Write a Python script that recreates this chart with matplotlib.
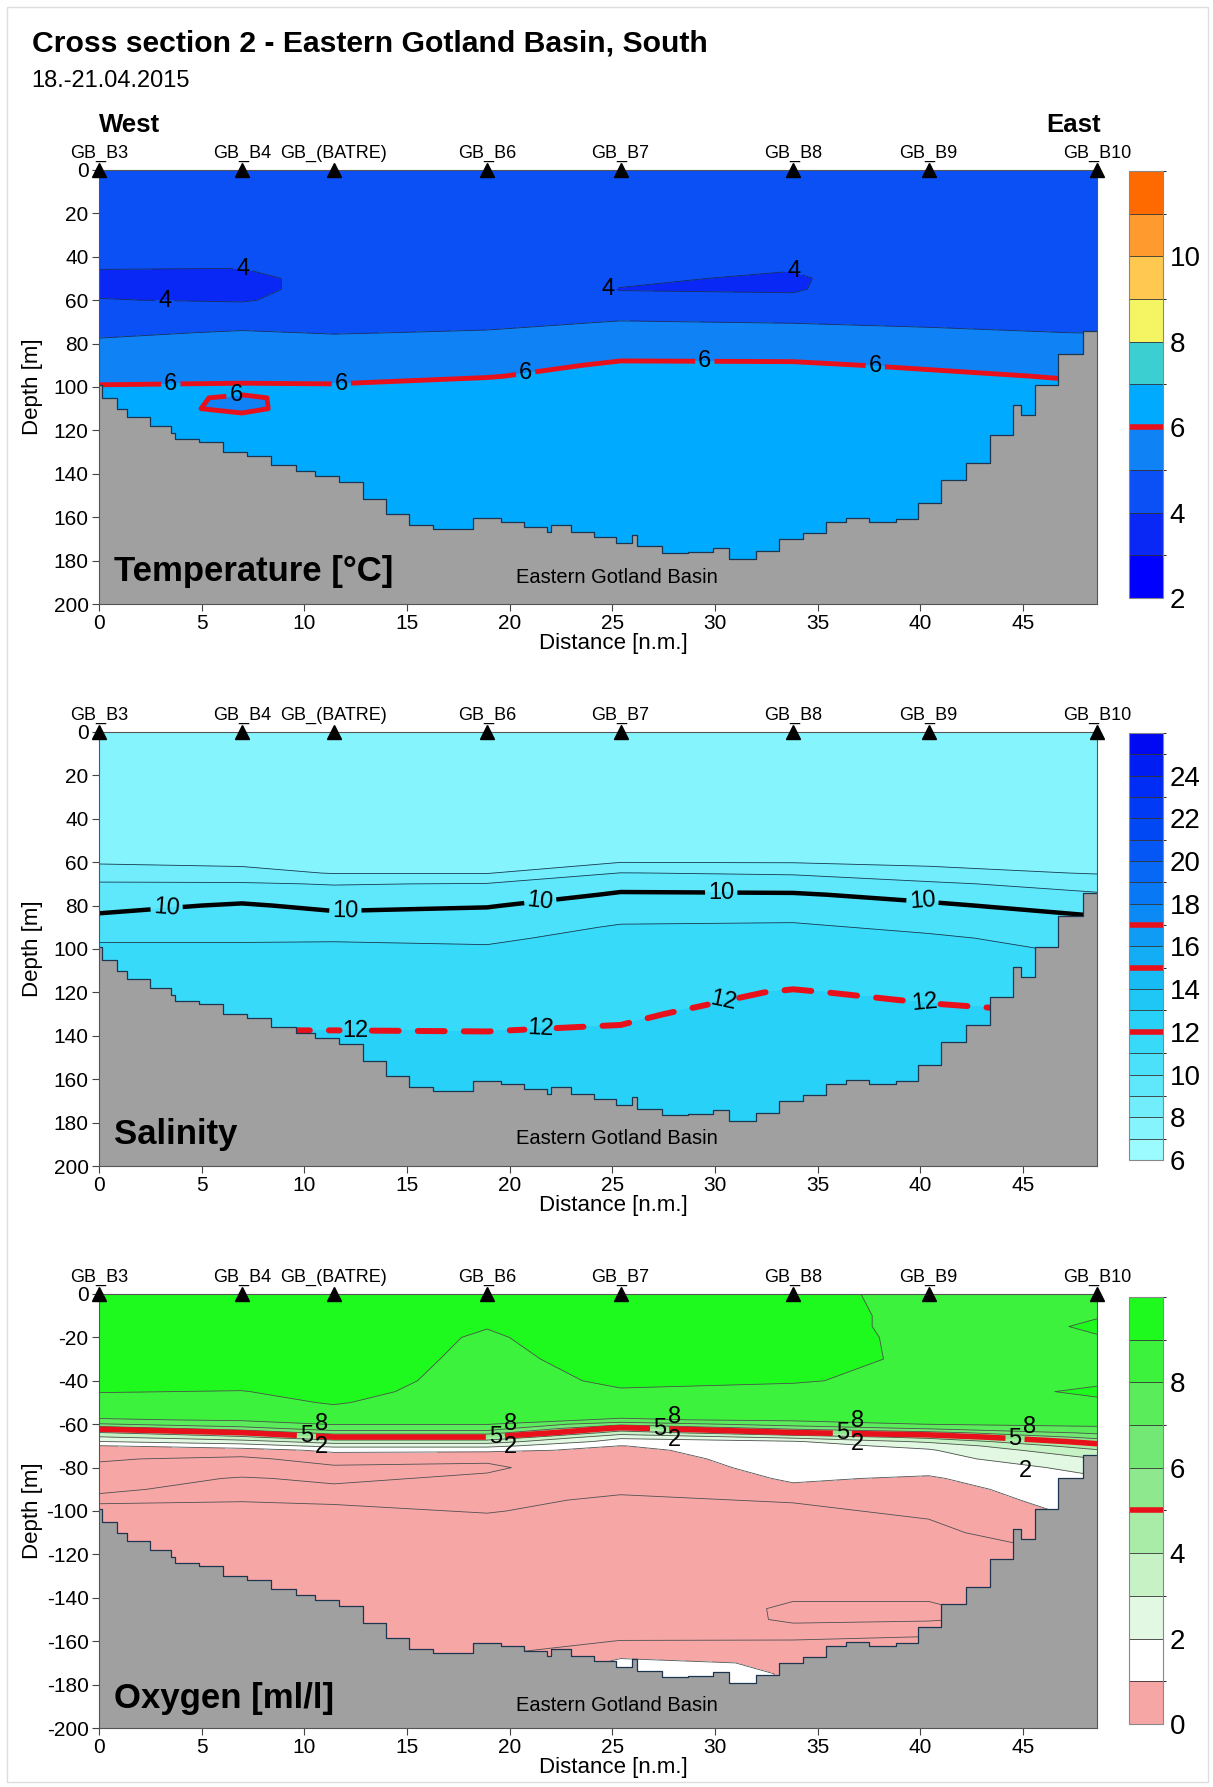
import numpy as np
import matplotlib
matplotlib.use("Agg")
import matplotlib.pyplot as plt
from matplotlib.colors import ListedColormap, BoundaryNorm, LinearSegmentedColormap
from matplotlib.cm import ScalarMappable
from matplotlib.patches import Rectangle
from matplotlib.ticker import FuncFormatter

plt.rcParams['font.family'] = ['Liberation Sans', 'DejaVu Sans']
plt.rcParams['contour.negative_linestyle'] = 'solid'

# stations along the section
stations = ['GB_B3', 'GB_B4', 'GB_(BATRE)', 'GB_B6', 'GB_B7', 'GB_B8', 'GB_B9', 'GB_B10']
station_dist = [0.0, 6.96, 11.44, 18.9, 25.4, 33.8, 40.4, 48.6]

# sea floor (step profile, n.m. / m)
bottom_dist = [0, 0.15, 0.9, 1.35, 2.5, 3.5, 3.7, 4.87, 6.06, 7.2, 8.37, 9.6, 10.5, 11.7,
               12.85, 13.96, 15.1, 16.25, 18.2, 19.6, 20.7, 21.8, 22.0, 22.98, 24.1, 25.2,
               25.95, 26.2, 27.4, 28.7, 29.9, 30.7, 32.0, 33.1, 34.3, 35.4, 36.4, 37.5,
               38.8, 39.9, 41.0, 42.2, 43.4, 44.5, 44.9, 45.6, 46.7, 47.9, 48.6]
bottom_depth = [99, 105, 110, 114, 118, 121, 124, 125.5, 130, 132, 136, 138.6, 140.8, 144,
                151.5, 158.5, 163.4, 165.5, 160.6, 162, 164.6, 167, 163.4, 166.7, 169, 171.9,
                168, 173.5, 176.5, 176, 174.4, 179.3, 175.5, 170, 167.3, 162, 160.3, 162.3,
                161, 153.4, 143, 135.2, 122.3, 108.3, 112.7, 99.2, 85, 74.4, 74.4]

# temperature [degC] profiles
temp_depth = [0, 10, 20, 30, 40, 45, 50, 55, 60, 65, 70, 75, 80, 85, 90, 95, 100, 105, 110,
              115, 120, 140, 160, 180, 200]
t_b3 = [4.5, 4.5, 4.5, 4.45, 4.2, 4.02, 3.9, 3.9, 4.02, 4.3, 4.7, 4.9, 5.1, 5.3, 5.6, 5.8,
        6.05, 6.1, 6.1, 6.15, 6.2, 6.3, 6.3, 6.3, 6.3]
t_b4 = [4.5, 4.5, 4.5, 4.45, 4.2, 4.01, 3.85, 3.85, 3.95, 4.25, 4.8, 5.05, 5.2, 5.4, 5.6,
        5.85, 6.08, 5.97, 5.96, 6.06, 6.2, 6.3, 6.3, 6.3, 6.3]
t_batre = [4.5, 4.5, 4.5, 4.5, 4.3, 4.2, 4.2, 4.2, 4.25, 4.45, 4.75, 4.97, 5.2, 5.4, 5.6,
           5.85, 6.06, 6.08, 6.1, 6.15, 6.2, 6.3, 6.3, 6.3, 6.3]
t_b6 = [4.5, 4.5, 4.5, 4.5, 4.35, 4.3, 4.25, 4.2, 4.3, 4.5, 4.85, 5.05, 5.3, 5.5, 5.75,
        5.97, 6.2, 6.25, 6.3, 6.3, 6.3, 6.35, 6.35, 6.35, 6.35]
t_b7 = [4.5, 4.5, 4.5, 4.5, 4.3, 4.2, 4.1, 3.98, 4.15, 4.8, 5.02, 5.25, 5.5, 5.85, 6.1,
        6.2, 6.3, 6.35, 6.35, 6.35, 6.35, 6.35, 6.35, 6.35, 6.35]
t_b8 = [4.5, 4.5, 4.5, 4.5, 4.2, 4.05, 3.9, 3.93, 4.15, 4.6, 4.97, 5.2, 5.45, 5.8, 6.1,
        6.2, 6.3, 6.35, 6.35, 6.35, 6.35, 6.35, 6.35, 6.35, 6.35]
t_b9 = [4.5, 4.5, 4.5, 4.5, 4.55, 4.6, 4.6, 4.6, 4.65, 4.75, 4.95, 5.05, 5.3, 5.55, 5.9,
        6.15, 6.25, 6.3, 6.3, 6.3, 6.3, 6.3, 6.3, 6.3, 6.3]
t_b10 = [4.5, 4.5, 4.5, 4.5, 4.5, 4.55, 4.55, 4.55, 4.55, 4.7, 4.8, 4.99, 5.2, 5.45, 5.7,
         5.9, 6.1, 6.2, 6.2, 6.2, 6.2, 6.2, 6.2, 6.2, 6.2]

# salinity profiles
sal_depth = [0, 20, 40, 55, 60, 65, 70, 75, 80, 85, 90, 95, 100, 110, 120, 130, 140, 150,
             160, 180, 200]
s_b3 = [7.4, 7.4, 7.45, 7.6, 7.9, 8.5, 9.1, 9.4, 9.75, 10.1, 10.5, 10.9, 11.15, 11.4, 11.6,
        11.8, 12.05, 12.3, 12.5, 12.7, 12.8]
s_b4 = [7.4, 7.4, 7.45, 7.6, 7.8, 8.3, 9.1, 9.6, 10.1, 10.35, 10.6, 10.9, 11.15, 11.4, 11.6,
        11.85, 12.05, 12.3, 12.5, 12.7, 12.8]
s_batre = [7.4, 7.4, 7.45, 7.55, 7.7, 7.95, 8.95, 9.4, 9.8, 10.2, 10.5, 10.9, 11.2, 11.45,
           11.65, 11.85, 12.05, 12.3, 12.5, 12.7, 12.8]
s_b6 = [7.4, 7.4, 7.45, 7.55, 7.7, 7.95, 9.05, 9.5, 9.95, 10.25, 10.5, 10.85, 11.1, 11.35,
        11.6, 11.8, 12.05, 12.3, 12.5, 12.7, 12.8]
s_b7 = [7.4, 7.4, 7.5, 7.7, 7.98, 9.02, 9.7, 10.1, 10.4, 10.75, 11.1, 11.3, 11.4, 11.6,
        11.75, 11.9, 12.1, 12.4, 12.6, 12.8, 12.9]
s_b8 = [7.4, 7.4, 7.5, 7.7, 7.95, 8.9, 9.5, 10.1, 10.45, 10.8, 11.15, 11.3, 11.45, 11.7,
        12.05, 12.3, 12.5, 12.6, 12.7, 12.8, 12.9]
s_b9 = [7.4, 7.4, 7.5, 7.65, 7.85, 8.25, 9.2, 9.7, 10.15, 10.45, 10.8, 11.15, 11.3, 11.55,
        11.85, 12.15, 12.35, 12.5, 12.6, 12.7, 12.8]
s_b10 = [7.4, 7.4, 7.5, 7.6, 7.7, 7.95, 8.5, 9.15, 9.6, 10.02, 10.3, 10.6, 10.85, 11.2,
         11.6, 11.98, 12.2, 12.4, 12.5, 12.6, 12.7]

# oxygen [ml/l] profiles (negative = H2S)
oxy_depth = [0, 10, 15, 20, 30, 40, 45, 50, 55, 58, 60, 62, 64, 66, 68, 70, 72, 76, 80, 85,
             90, 95, 100, 105, 110, 120, 130, 140, 145, 150, 155, 160, 165, 170, 175, 180, 200]
o_b3 = [9.6, 9.6, 9.55, 9.5, 9.4, 9.2, 9.02, 8.8, 8.4, 7.9, 6.9, 5.2, 3.9, 2.9, 1.98, 0.95,
        0.7, 0.08, -0.15, -0.3, -0.1, 0.15, -0.3, -0.5, -0.6, -0.7, -0.75, -0.8, -0.8, -0.8,
        -0.8, -0.8, -0.8, -0.8, -0.8, -0.8, -0.8]
o_b4 = [9.6, 9.6, 9.55, 9.5, 9.4, 9.2, 8.98, 8.8, 8.5, 8.1, 7.6, 6.6, 4.95, 3.8, 2.6, 1.5,
        0.6, -0.2, -0.35, 0.05, 0.2, 0.05, -0.3, -0.5, -0.6, -0.7, -0.75, -0.8, -0.8, -0.8,
        -0.8, -0.8, -0.8, -0.8, -0.8, -0.8, -0.8]
o_batre = [9.6, 9.6, 9.55, 9.5, 9.45, 9.3, 9.2, 9.05, 8.8, 8.3, 8.05, 7.5, 6.4, 4.95, 3.5,
           2.3, 1.2, 0.4, -0.15, -0.1, 0.1, 0.1, -0.15, -0.4, -0.5, -0.6, -0.7, -0.7, -0.7,
           -0.7, -0.7, -0.7, -0.7, -0.7, -0.7, -0.7, -0.7]
o_b6 = [9.3, 9.15, 9.03, 8.9, 8.8, 8.75, 8.7, 8.6, 8.45, 8.3, 8.05, 7.5, 6.4, 4.95, 3.5, 2.3,
        1.2, 0.1, -0.1, 0.1, 0.2, 0.15, 0.05, -0.2, -0.4, -0.5, -0.6, -0.6, -0.6, -0.5, -0.4,
        -0.3, -0.2, -0.2, -0.2, -0.2, -0.2]
o_b7 = [9.6, 9.6, 9.55, 9.5, 9.3, 9.1, 8.95, 8.7, 8.3, 7.9, 6.3, 4.7, 3.5, 2.2, 1.6, 0.98,
        0.8, 0.6, 0.45, 0.3, 0.1, -0.1, -0.3, -0.4, -0.5, -0.6, -0.6, -0.5, -0.45, -0.4,
        -0.25, 0.02, 0.7, 1.2, 1.4, 1.4, 1.4]
o_b8 = [9.3, 9.35, 9.35, 9.35, 9.3, 9.03, 8.9, 8.75, 8.5, 8.15, 7.5, 6.2, 4.9, 3.3, 1.9, 1.6,
        1.5, 1.4, 1.3, 1.1, 0.85, 0.05, -0.15, -0.3, -0.4, -0.6, -0.75, -0.95, -1.1, -1.1,
        -0.8, 0.1, 0.6, 0.9, 0.95, 0.95, 0.95]
o_b9 = [8.7, 8.75, 8.75, 8.8, 8.85, 8.9, 8.85, 8.7, 8.5, 8.3, 8.02, 7.1, 5.6, 4.3, 3.2, 2.3,
        1.9, 1.6, 1.3, 0.9, 0.6, 0.4, 0.15, -0.05, -0.25, -0.5, -0.8, -0.95, -1.1, -1.1,
        -0.4, 0.3, 0.5, 0.6, 0.6, 0.6, 0.6]
o_b10 = [8.9, 8.98, 9.05, 8.98, 8.9, 8.95, 9.05, 8.95, 8.6, 8.3, 8.1, 7.9, 7.2, 6.3, 5.4, 4.6,
         3.9, 3.0, 2.3, 1.9, 1.7, 1.5, 1.3, 1.1, 0.9, 0.1, -0.3, -0.5, -0.5, -0.4, -0.2, 0.2,
         0.4, 0.5, 0.5, 0.5, 0.5]

temp_levels = list(range(2, 13))
temp_colors = ['#0000FF', '#0A28F5', '#0A50F5', '#0F82F5', '#00AAFF', '#3CCFD2',
               '#F5F564', '#FFC850', '#FF9A2E', '#FF6A00']
sal_levels = list(range(6, 27))
sal_anchor = ['#A5FFFF', '#7AF0FC', '#55E4FA', '#2DD6F8', '#19C3F5', '#0FA5F5',
              '#0A82F5', '#055FF5', '#0041F5', '#0028F5', '#0000F0']
oxy_levels = list(range(0, 11))
oxy_colors = ['#F7A6A6', '#FFFFFF', '#E2F8E2', '#C6F2C6', '#A8ECA8', '#8EE98E',
              '#74E874', '#5AEC5A', '#3CF23C', '#1EFA1E']

RED = '#E8101A'
LABEL_SIZE = 17


def setup_axes(ax, oxygen=False):
    ax.set_xlim(0, 48.6)
    ax.set_ylim(200, 0)
    ax.set_xticks(range(0, 50, 5))
    ax.set_yticks(range(0, 201, 20))
    if oxygen:
        ax.yaxis.set_major_formatter(FuncFormatter(lambda v, p: '0' if v == 0 else f'-{v:g}'))
    ax.tick_params(direction='out', length=5, width=0.8, labelsize=15, color='#444444',
                   pad=2.5)
    ax.set_xlabel('Distance [n.m.]', fontsize=16)
    ax.set_ylabel('Depth [m]', fontsize=16)
    ax.xaxis.set_label_coords(0.515, -0.066)
    ax.yaxis.set_label_coords(-0.056, 0.5)
    for sp in ax.spines.values():
        sp.set_color('#555555')
        sp.set_linewidth(0.8)
        sp.set_zorder(6)


def draw_bottom(ax, name_y):
    ax.fill_between(bottom_dist, bottom_depth, 200, step='post', color='#A0A0A0',
                    linewidth=0, zorder=3)
    ax.step(bottom_dist, bottom_depth, where='post', color='#1E3550', lw=0.9, zorder=3.5)
    ax.text(25.2, name_y, 'Eastern Gotland Basin', fontsize=14.5, ha='center', va='center',
            zorder=4)


def draw_stations(ax):
    ax.plot(station_dist, [0] * len(station_dist), '^', color='k', ms=10, clip_on=False,
            zorder=7)
    for name, d in zip(stations, station_dist):
        ax.annotate(name, (d, 0), xytext=(0, 5.5), textcoords='offset points', ha='center',
                    va='bottom', fontsize=13)


def add_colorbar(fig, rect, levels, colors, ticks, red_marks):
    cax = fig.add_axes(rect)
    sm = ScalarMappable(norm=BoundaryNorm(levels, len(colors)), cmap=ListedColormap(colors))
    cb = fig.colorbar(sm, cax=cax, drawedges=True, ticks=ticks)
    cb.outline.set_edgecolor('#888888')
    cb.outline.set_linewidth(0.8)
    cb.dividers.set_color('#333333')
    cb.dividers.set_linewidth(0.6)
    cax.tick_params(length=0, labelsize=20, pad=5)
    for v in red_marks:
        cax.axhline(v, color=RED, lw=4)


def labelled_line(ax, x, y, z, level, positions, rotate=True, **kw):
    cs = ax.contour(x, y, z, levels=[level], zorder=2, **kw)
    ax.clabel(cs, fmt='%d', fontsize=LABEL_SIZE, colors='k', inline=True,
              inline_spacing=3, rightside_up=True, manual=positions)
    if not rotate:
        for t in cs.labelTexts:
            t.set_rotation(0)
    return cs


fig = plt.figure(figsize=(12.13, 17.87), dpi=100)
fig.patches.append(Rectangle((0.006, 0.003), 0.99, 0.993, transform=fig.transFigure,
                             fill=False, edgecolor='#DDDDDD', lw=1))

fig.text(0.026, 0.9755, 'Cross section 2 - Eastern Gotland Basin, South', fontsize=21.7,
         fontweight='bold', va='center')
fig.text(0.026, 0.9545, '18.-21.04.2015', fontsize=17, va='center')

# --- temperature ---
ax1 = fig.add_axes([0.0816, 0.662, 0.8228, 0.2429])
T = np.column_stack([t_b3, t_b4, t_batre, t_b6, t_b7, t_b8, t_b9, t_b10])
ax1.contourf(station_dist, temp_depth, T, levels=temp_levels, colors=temp_colors, zorder=1)
ax1.contour(station_dist, temp_depth, T, levels=[5], colors='#1A2A60', linewidths=0.6,
            zorder=2)
labelled_line(ax1, station_dist, temp_depth, T, 4,
              [(7.0, 45.5), (3.2, 59.5), (24.6, 55.5), (33.8, 47.5)], rotate=False,
              colors='#1A2A60', linewidths=0.6)
labelled_line(ax1, station_dist, temp_depth, T, 6,
              [(3.5, 98.5), (11.8, 98.3), (20.8, 95.5), (29.5, 88), (37.8, 90.5), (6.7, 107)],
              rotate=False, colors=RED, linewidths=3.5)
draw_bottom(ax1, 188)
draw_stations(ax1)
setup_axes(ax1)
ax1.text(0.75, 185, 'Temperature [°C]', fontsize=25, fontweight='bold', va='center', zorder=5)
ax1.annotate('West', (0, 0), xytext=(0, 24), textcoords='offset points', fontsize=18.5,
             fontweight='bold', ha='left', va='bottom')
ax1.annotate('East', (48.6, 0), xytext=(3, 24), textcoords='offset points', fontsize=18.5,
             fontweight='bold', ha='right', va='bottom')
add_colorbar(fig, [0.9307, 0.6654, 0.028, 0.239], temp_levels, temp_colors,
             [2, 4, 6, 8, 10], [6])

# --- salinity ---
ax2 = fig.add_axes([0.0816, 0.3475, 0.8228, 0.2429])
S = np.column_stack([s_b3, s_b4, s_batre, s_b6, s_b7, s_b8, s_b9, s_b10])
sal_cmap = LinearSegmentedColormap.from_list('sal', sal_anchor)
sal_colors = [sal_cmap((i + 0.5) / 20) for i in range(20)]
ax2.contourf(station_dist, sal_depth, S, levels=sal_levels, colors=sal_colors, zorder=1)
ax2.contour(station_dist, sal_depth, S, levels=[8, 9, 11], colors='#1A3A50',
            linewidths=0.6, zorder=2)
labelled_line(ax2, station_dist, sal_depth, S, 10,
              [(3.3, 82), (12.0, 83), (21.5, 79), (30.3, 73.5), (40.1, 78)],
              colors='k', linewidths=3.2)
cs_s12 = labelled_line(ax2, station_dist, sal_depth, S, 12,
                       [(12.5, 137.5), (21.5, 137), (30.5, 128), (40.2, 125)],
                       colors=RED, linewidths=4.3, linestyles=[(0, (4.5, 3.2))])
cs_s12.set_capstyle('round')
draw_bottom(ax2, 187.5)
draw_stations(ax2)
setup_axes(ax2)
ax2.text(0.75, 185.5, 'Salinity', fontsize=25, fontweight='bold', va='center', zorder=5)
add_colorbar(fig, [0.9307, 0.3509, 0.028, 0.239], sal_levels, sal_colors,
             list(range(6, 25, 2)), [12, 15, 17])

# --- oxygen ---
ax3 = fig.add_axes([0.0816, 0.033, 0.8228, 0.2429])
O = np.column_stack([o_b3, o_b4, o_batre, o_b6, o_b7, o_b8, o_b9, o_b10])
fill_levels = [-5] + oxy_levels[1:]
ax3.contourf(station_dist, oxy_depth, O, levels=fill_levels, colors=oxy_colors, zorder=1)
ax3.contour(station_dist, oxy_depth, O, levels=[-1, 0, 1, 2, 3, 4, 6, 7, 8, 9],
            colors='#505050', linewidths=0.6, zorder=2)
cs_o5 = labelled_line(ax3, station_dist, oxy_depth, O, 5,
                      [(10.1, 65.5), (19.3, 65.5), (27.3, 61.5), (36.2, 64), (44.6, 68)],
                      rotate=False, colors=RED, linewidths=4)
# the 8 and 2 isolines are labelled next to each "5"
for i, t in enumerate(cs_o5.labelTexts):
    lx, ly = t.get_position()
    ax3.text(lx + 0.72, ly - 5.6, '8', fontsize=LABEL_SIZE, ha='center', va='center',
             zorder=4)
    if i < len(cs_o5.labelTexts) - 1:
        ax3.text(lx + 0.72, ly + 5.0, '2', fontsize=LABEL_SIZE, ha='center', va='center',
                 zorder=4)
ax3.text(45.1, 81.5, '2', fontsize=LABEL_SIZE, ha='center', va='center', zorder=4)
draw_bottom(ax3, 189.5)
draw_stations(ax3)
setup_axes(ax3, oxygen=True)
ax3.text(0.75, 186.5, 'Oxygen [ml/l]', fontsize=25, fontweight='bold', va='center', zorder=5)
add_colorbar(fig, [0.9307, 0.0353, 0.028, 0.239], oxy_levels, oxy_colors,
             [0, 2, 4, 6, 8], [5])

fig.savefig('out.png', dpi=100)
